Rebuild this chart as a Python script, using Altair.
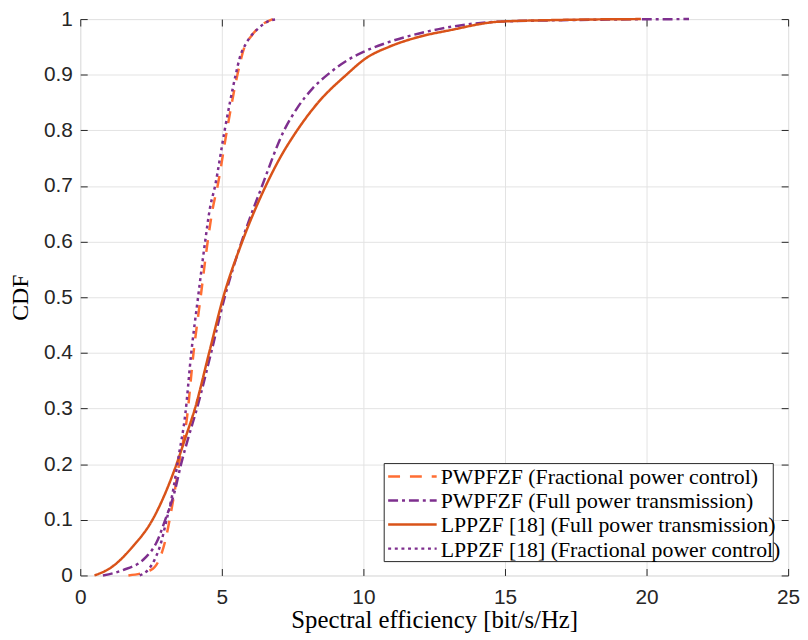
import altair as alt
import pandas as pd

# ---------------- data ----------------
series_names = [
    "PWPFZF (Fractional power control)",
    "PWPFZF (Full power transmission)",
    "LPPZF [18] (Full power transmission)",
    "LPPZF [18] (Fractional power control)",
]

# PWPFZF (Fractional power control) - dashed orange
a_x = [1.7, 2.5, 2.8, 3.0, 3.18, 3.35, 3.52, 3.76, 4.0, 4.25, 4.5, 4.68, 4.85, 5.18, 5.55, 5.8, 6.05, 6.3, 6.8]
a_y = [0, 0.01, 0.03, 0.062, 0.107, 0.156, 0.21, 0.28, 0.40, 0.50, 0.60, 0.66, 0.70, 0.80, 0.90, 0.95, 0.97, 0.985, 1.0]

# PWPFZF (Full power transmission) - dash-dot purple
b_x = [0.8, 1.47, 2.3, 2.7, 3.0, 3.33, 3.56, 3.83, 4.12, 4.62, 5.1, 5.7, 6.42, 7.2, 7.66, 8.2,
       8.78, 9.4, 10.0, 10.8, 11.5, 12.66, 13.6, 14.65, 17.0, 21.5]
b_y = [0, 0.009, 0.032, 0.06, 0.10, 0.15, 0.20, 0.25, 0.30, 0.40, 0.50, 0.60, 0.70, 0.80, 0.84, 0.875,
       0.902, 0.925, 0.941, 0.957, 0.968, 0.982, 0.99, 0.995, 0.998, 1.0]

# LPPZF [18] (Full power transmission) - solid orange-red
c_x = [0.5, 1.08, 1.82, 2.55, 3.02, 3.4, 3.73, 4.05, 4.55, 5.05, 5.72, 6.55, 7.05, 7.66, 8.4, 9.4,
       10.1, 10.9, 11.96, 13.25, 14.0, 14.7, 16.5, 19.8]
c_y = [0, 0.014, 0.05, 0.10, 0.15, 0.20, 0.25, 0.30, 0.40, 0.50, 0.60, 0.70, 0.75, 0.80, 0.85, 0.90,
       0.93, 0.95, 0.968, 0.982, 0.99, 0.995, 0.998, 1.0]

# LPPZF [18] (Fractional power control) - dotted purple
d_x = [2.1, 2.41, 2.66, 2.83, 3.04, 3.29, 3.46, 3.71, 3.92, 4.16, 4.41, 4.58, 4.76, 5.1, 5.49, 5.63, 5.9, 6.26, 6.6, 6.96]
d_y = [0, 0.011, 0.032, 0.055, 0.098, 0.156, 0.21, 0.29, 0.40, 0.50, 0.60, 0.66, 0.70, 0.80, 0.90, 0.93, 0.96,
       0.982, 0.995, 1.0]

x_ticks = [0, 5, 10, 15, 20, 25]
y_ticks = [0, 0.1, 0.2, 0.3, 0.4, 0.5, 0.6, 0.7, 0.8, 0.9, 1.0]

colors = ["#FF6E33", "#7E2F8E", "#D95319", "#7E2F8E"]
dashes = [[12, 10], [10, 4, 3, 4], [1, 0], [3, 3.7]]

frames = []
for name, xs, ys in zip(series_names, [a_x, b_x, c_x, d_x], [a_y, b_y, c_y, d_y]):
    frames.append(pd.DataFrame({"x": xs, "y": ys, "series": name}))
df = pd.concat(frames, ignore_index=True)

SERIF = "Liberation Serif"
SANS = "Liberation Sans"
INK = "#262626"
W, H = 715, 562

color_enc = alt.Color("series:N", scale=alt.Scale(domain=series_names, range=colors), legend=None)
dash_enc = alt.StrokeDash("series:N", scale=alt.Scale(domain=series_names, range=dashes), legend=None)

x_scale = alt.Scale(domain=[0, 25], nice=False)
y_scale = alt.Scale(domain=[0, 1], nice=False)

x_main = alt.Axis(
    orient="bottom", values=x_ticks, offset=-7, tickSize=7, tickColor=INK, domain=False,
    grid=True, gridColor="#e3e3e3", labelFont=SANS, labelFontSize=21, labelColor=INK,
    labelPadding=11, labelFlush=False, title="Spectral efficiency [bit/s/Hz]",
    titleFont=SERIF, titleFontSize=25, titleFontWeight="normal", titleColor="#000", titlePadding=1,
)
y_main = alt.Axis(
    orient="left", values=y_ticks, format=".1~f", offset=-7, tickSize=7, tickColor=INK, domain=False,
    grid=True, gridColor="#e3e3e3", labelFont=SANS, labelFontSize=21, labelColor=INK,
    labelPadding=8, labelFlush=False, title="CDF",
    titleFont=SERIF, titleFontSize=24, titleFontWeight="normal", titleColor="#000", titlePadding=11,
)
x_top = alt.Axis(orient="top", values=x_ticks, offset=-7, tickSize=7, tickColor=INK, domain=False,
                 grid=False, labels=False, title=None)
y_right = alt.Axis(orient="right", values=y_ticks, offset=-7, tickSize=7, tickColor=INK, domain=False,
                   grid=False, labels=False, title=None)

base = alt.Chart(df)
layers = []
for i, name in enumerate(series_names):
    if i == 0:
        xa, ya = x_main, y_main
    elif i == 1:
        xa, ya = x_top, y_right
    else:
        xa, ya = None, None
    layers.append(
        base.transform_filter(alt.datum.series == name)
        .mark_line(strokeWidth=2.5, interpolate="monotone")
        .encode(
            x=alt.X("x:Q", scale=x_scale, axis=xa),
            y=alt.Y("y:Q", scale=y_scale, axis=ya),
            color=color_enc,
            strokeDash=dash_enc,
            order=alt.Order("x:Q"),
        )
    )

# ---------------- legend (drawn by hand so that rows stay compact) ----------------
LX0, LY0, LW, LH = 307, 449, 393, 99
ROW0, ROWSTEP = 462, 24.3
one = pd.DataFrame({"k": [0]})
legend_layers = [
    alt.Chart(one).mark_rect(fill="white", stroke=INK, strokeWidth=1).encode(
        x=alt.value(LX0), x2=alt.value(LX0 + LW), y=alt.value(LY0), y2=alt.value(LY0 + LH)
    )
]
for i, name in enumerate(series_names):
    yy = ROW0 + ROWSTEP * i
    legend_layers.append(
        alt.Chart(one).mark_rule(strokeWidth=2.5, color=colors[i], strokeDash=dashes[i]).encode(
            x=alt.value(311), x2=alt.value(360), y=alt.value(yy)
        )
    )
    legend_layers.append(
        alt.Chart(one).mark_text(
            text=name, align="left", baseline="middle", font=SERIF, fontSize=22, color="#000"
        ).encode(x=alt.value(364), y=alt.value(yy + 1))
    )

chart = (
    alt.layer(*layers, *legend_layers)
    .resolve_axis(x="independent", y="independent")
    .properties(
        width=W, height=H,
        autosize=alt.AutoSizeParams(type="none"),
        padding={"left": 73, "top": 8, "right": 12, "bottom": 62},
    )
    .configure_view(stroke=INK, strokeWidth=1)
    .configure(background="white")
)

chart.save("out.html", embed_options={"renderer": "svg", "actions": False})
